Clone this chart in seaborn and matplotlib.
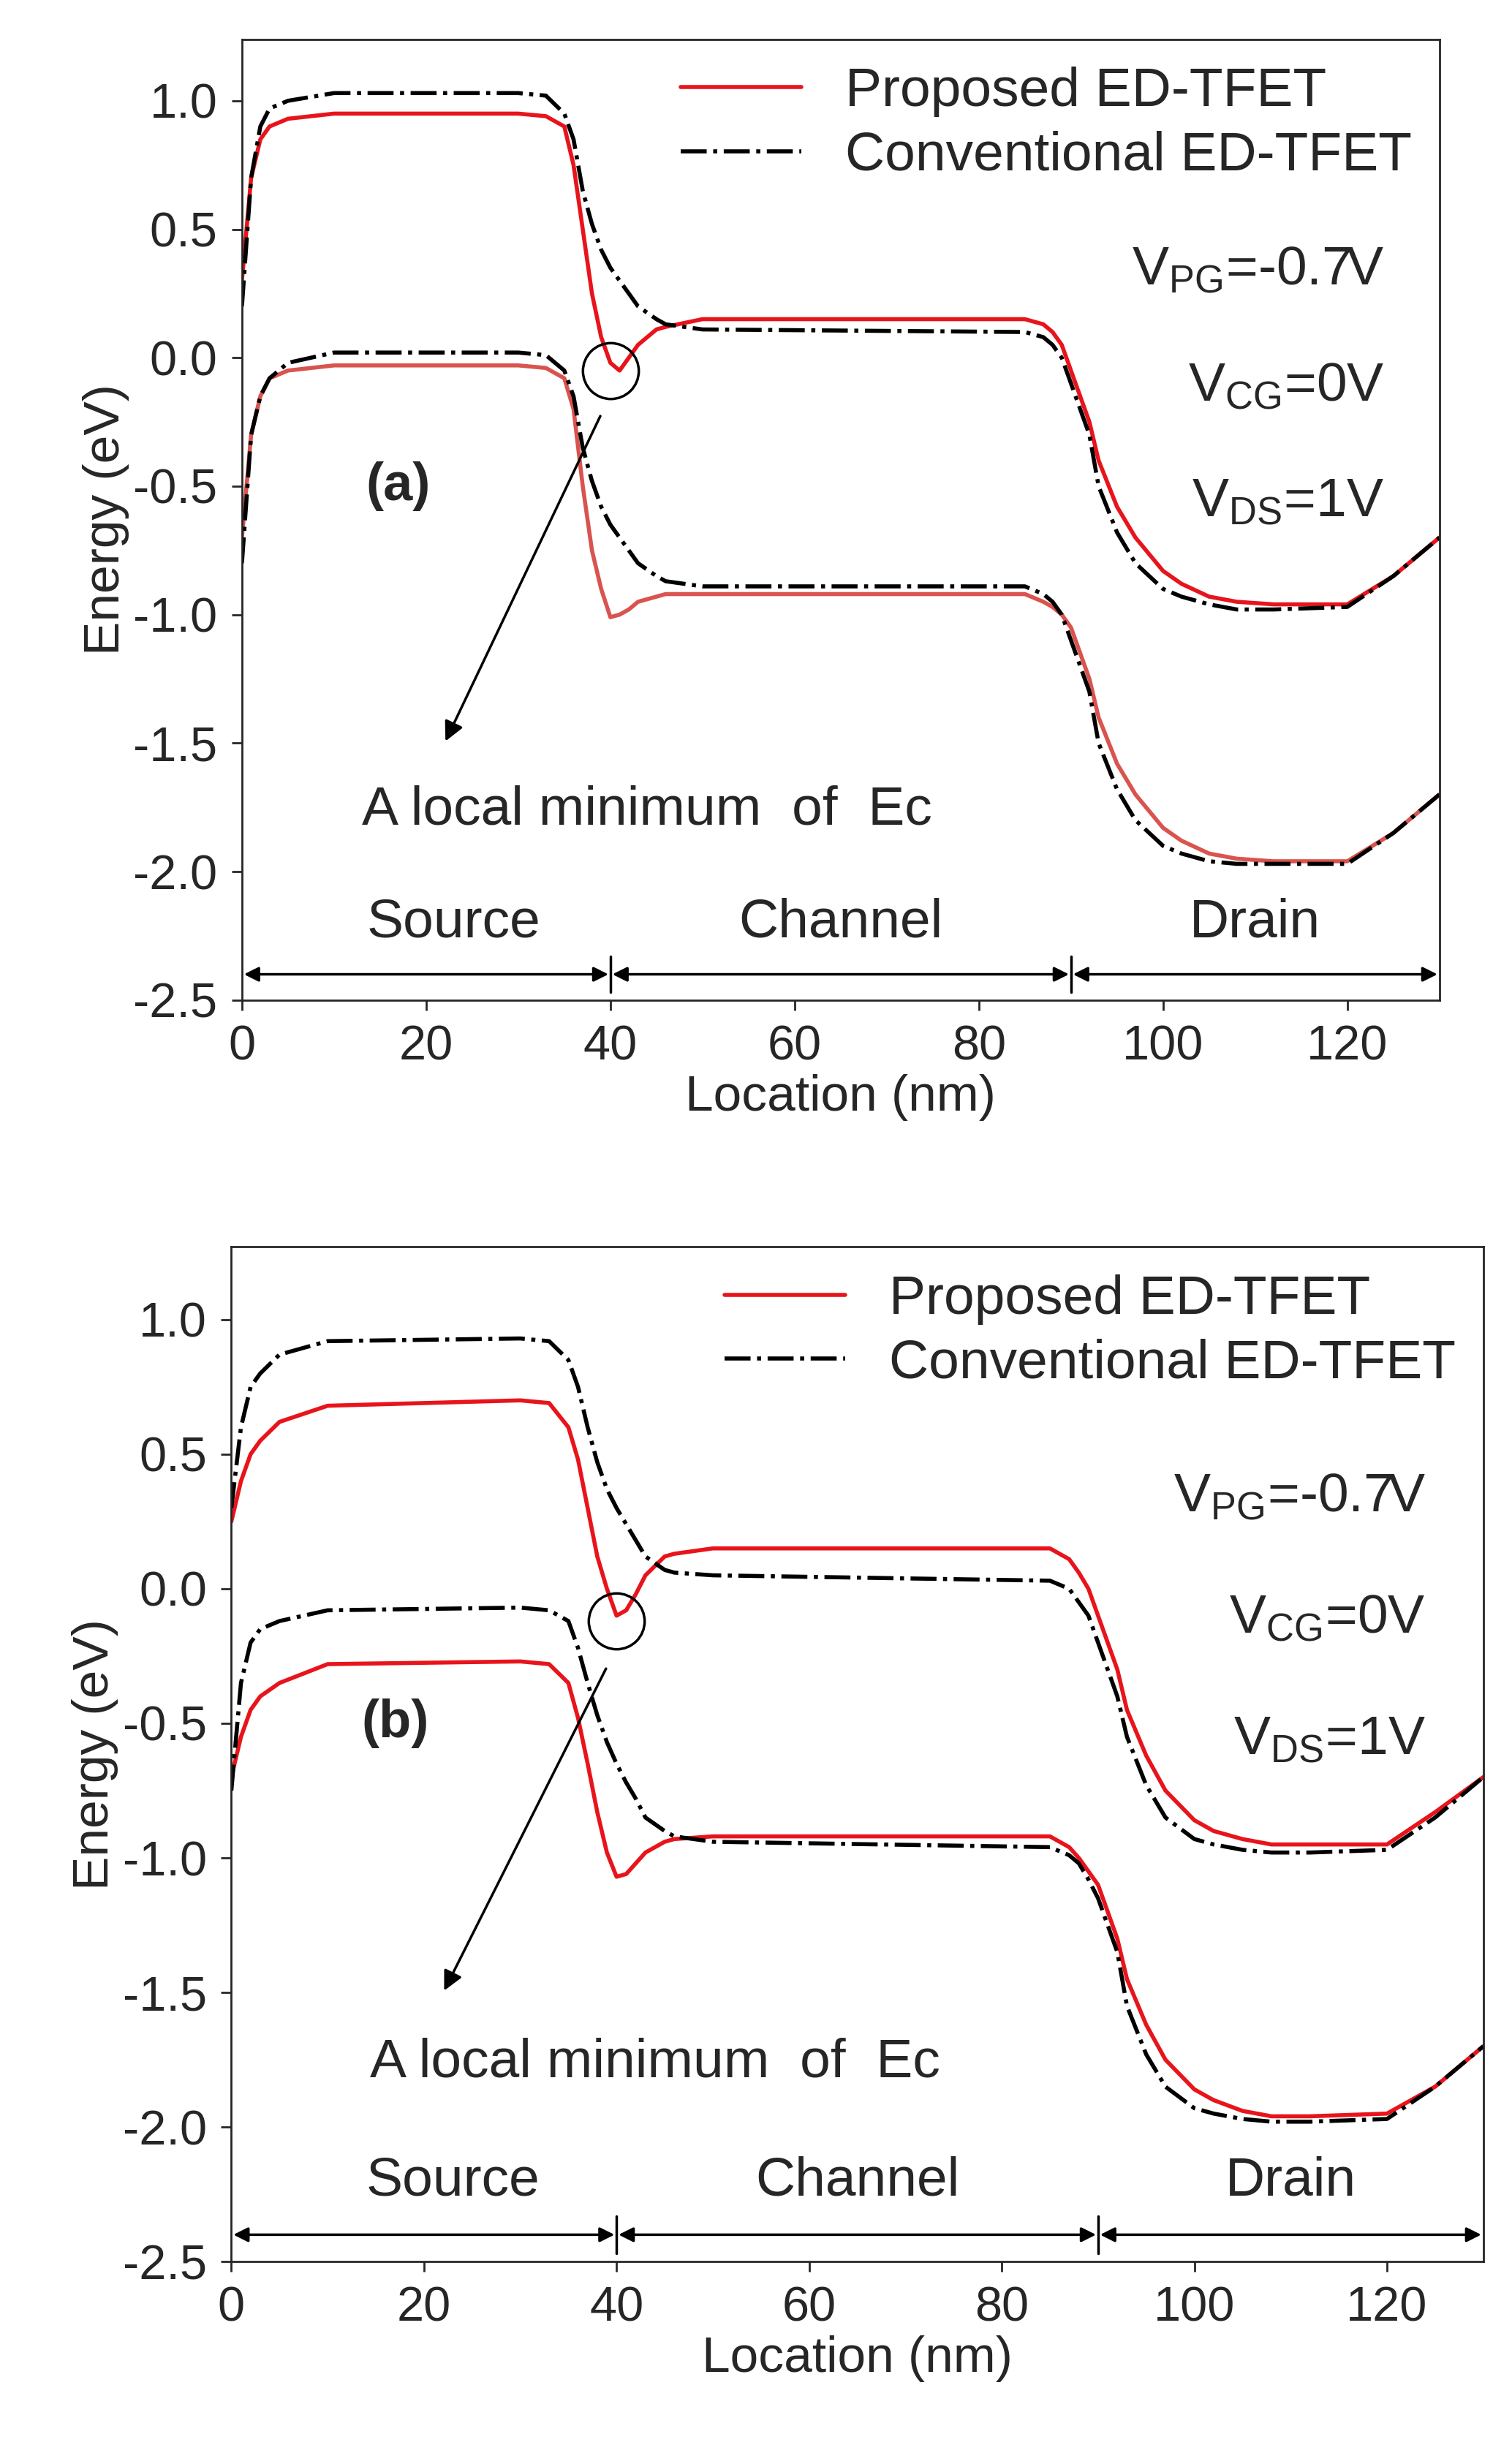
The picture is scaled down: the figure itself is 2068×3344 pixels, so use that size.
import numpy as np
import matplotlib.pyplot as plt
import seaborn as sns
import pandas as pd

sns.set_style("ticks")
plt.rcParams["font.family"] = "Liberation Sans"
plt.rcParams["mathtext.default"] = "regular"

# band edges (x in nm, energy in eV)
x_pts = [0, 1, 2, 3, 5, 10, 30, 33, 35, 36, 37, 38, 39, 40, 41, 42, 43, 45, 46, 50,
         85, 87, 88, 89, 90, 92, 93, 95, 97, 100, 102, 105, 108, 112, 120, 125, 130]

a_ec_prop = [0.3, 0.7, 0.85, 0.9, 0.93, 0.95, 0.95, 0.94, 0.9, 0.75, 0.5, 0.25, 0.08, -0.02, -0.05,
             0.0, 0.05, 0.11, 0.12, 0.15, 0.15, 0.13, 0.1, 0.05, -0.05, -0.25, -0.4, -0.58, -0.7,
             -0.83, -0.88, -0.93, -0.95, -0.96, -0.96, -0.85, -0.7]
a_ec_conv = [0.2, 0.7, 0.9, 0.97, 1.0, 1.03, 1.03, 1.02, 0.95, 0.85, 0.65, 0.52, 0.42, 0.35, 0.3,
             0.25, 0.2, 0.15, 0.13, 0.11, 0.1, 0.08, 0.05, 0.0, -0.1, -0.3, -0.5, -0.68, -0.8,
             -0.9, -0.93, -0.96, -0.98, -0.98, -0.97, -0.85, -0.7]
a_ev_prop = [-0.7, -0.3, -0.15, -0.08, -0.05, -0.03, -0.03, -0.04, -0.08, -0.2, -0.5, -0.75, -0.9,
             -1.01, -1.0, -0.98, -0.95, -0.93, -0.92, -0.92, -0.92, -0.95, -0.97, -1.0, -1.05,
             -1.25, -1.4, -1.58, -1.7, -1.83, -1.88, -1.93, -1.95, -1.96, -1.96, -1.85, -1.7]
a_ev_conv = [-0.8, -0.3, -0.15, -0.08, -0.02, 0.02, 0.02, 0.01, -0.05, -0.15, -0.35, -0.48, -0.58,
             -0.65, -0.7, -0.75, -0.8, -0.85, -0.87, -0.89, -0.89, -0.92, -0.95, -1.0, -1.1,
             -1.3, -1.5, -1.68, -1.8, -1.9, -1.93, -1.96, -1.97, -1.97, -1.97, -1.85, -1.7]

b_ec_prop = [0.25, 0.4, 0.5, 0.55, 0.62, 0.68, 0.7, 0.69, 0.6, 0.48, 0.3, 0.12, 0.0, -0.1, -0.08,
             -0.02, 0.05, 0.12, 0.13, 0.15, 0.15, 0.11, 0.06, 0.0, -0.1, -0.3, -0.45, -0.62, -0.75,
             -0.86, -0.9, -0.93, -0.95, -0.95, -0.95, -0.83, -0.7]
b_ec_conv = [0.3, 0.6, 0.75, 0.8, 0.87, 0.92, 0.93, 0.92, 0.85, 0.75, 0.6, 0.47, 0.37, 0.3, 0.24,
             0.18, 0.12, 0.07, 0.06, 0.05, 0.03, 0.0, -0.05, -0.1, -0.2, -0.4, -0.55, -0.73, -0.85,
             -0.93, -0.95, -0.97, -0.98, -0.98, -0.97, -0.85, -0.7]
b_ev_prop = [-0.7, -0.55, -0.45, -0.4, -0.35, -0.28, -0.27, -0.28, -0.35, -0.48, -0.65, -0.83, -0.98,
             -1.07, -1.06, -1.02, -0.98, -0.94, -0.93, -0.92, -0.92, -0.96, -1.0, -1.05, -1.1,
             -1.3, -1.45, -1.62, -1.75, -1.86, -1.9, -1.94, -1.96, -1.96, -1.95, -1.85, -1.7]
b_ev_conv = [-0.75, -0.35, -0.2, -0.15, -0.12, -0.08, -0.07, -0.08, -0.12, -0.22, -0.35, -0.47, -0.57,
             -0.65, -0.72, -0.78, -0.85, -0.9, -0.92, -0.94, -0.96, -0.99, -1.02, -1.08, -1.15,
             -1.35, -1.55, -1.73, -1.85, -1.93, -1.95, -1.97, -1.98, -1.98, -1.97, -1.85, -1.7]

regions = ["Source", "Channel", "Drain"]
region_bounds = [0, 40, 90, 130]
region_label_x = [23, 65, 110]
volt_labels = ["V$_{PG}$=-0.7V", "V$_{CG}$=0V", "V$_{DS}$=1V"]
xticks = [0, 20, 40, 60, 80, 100, 120]
yticks = [1.0, 0.5, 0.0, -0.5, -1.0, -1.5, -2.0, -2.5]

fig = plt.figure(figsize=(20.68, 33.44), dpi=100)
ax_a = fig.add_axes([0.160, 0.591, 0.792, 0.393])
ax_b = fig.add_axes([0.153, 0.075, 0.828, 0.415])

panels = [
    (ax_a, "(a)", a_ec_prop, a_ec_conv, a_ev_prop, a_ev_conv, 1.24, -0.05),
    (ax_b, "(b)", b_ec_prop, b_ec_conv, b_ev_prop, b_ev_conv, 1.27, -0.12),
]

fs = 48
for ax, tag, ec_p, ec_c, ev_p, ev_c, ytop, cmin in panels:
    sns.lineplot(x=x_pts, y=ec_p, ax=ax, color="#e8141b", lw=4, label="Proposed ED-TFET")
    sns.lineplot(x=x_pts, y=ec_c, ax=ax, color="black", lw=4, ls="-.", label="Conventional ED-TFET")
    sns.lineplot(x=x_pts, y=ev_p, ax=ax, color="#e8141b" if tag == "(b)" else "#d9534f", lw=4)
    sns.lineplot(x=x_pts, y=ev_c, ax=ax, color="black", lw=4, ls="-.")
    ax.set_xlim(0, 130)
    ax.set_ylim(-2.5, ytop)
    ax.set_xticks(xticks)
    ax.set_yticks(yticks)
    ax.set_yticklabels([f"{v:.1f}" for v in yticks])
    ax.tick_params(labelsize=fs, direction="out", length=10, width=2, pad=14)
    for s in ax.spines.values():
        s.set_linewidth(2)
    ax.set_xlabel("Location (nm)", fontsize=fs + 2, labelpad=4)
    ax.set_ylabel("Energy (eV)", fontsize=fs + 2)
    ax.legend(loc="upper right", fontsize=fs + 6, frameon=False, handlelength=2.2,
              borderaxespad=0.1, labelspacing=0.25)
    for i, t in enumerate(volt_labels):
        ax.text(124, 0.34 - i * 0.45, t, fontsize=fs + 6, ha="right", va="center")
    ax.text(17, -0.5, tag, fontsize=fs + 4, fontweight="bold", ha="center", va="center")
    # local minimum marker
    ax.plot([40], [cmin], marker="o", ms=55, mfc="none", mec="black", mew=2.5)
    ax.annotate("", xy=(22, -1.5), xytext=(39, cmin - 0.17),
                arrowprops=dict(arrowstyle="-|>", color="black", lw=2.5, mutation_scale=40))
    ax.text(44, -1.76, "A local minimum  of  Ec", fontsize=fs + 6, ha="center", va="center")
    # region arrows
    for lo, hi in zip(region_bounds[:-1], region_bounds[1:]):
        ax.annotate("", xy=(lo, -2.4), xytext=(hi, -2.4),
                    arrowprops=dict(arrowstyle="<|-|>", color="black", lw=2.5, mutation_scale=30))
    for b in region_bounds[1:-1]:
        ax.plot([b, b], [-2.47, -2.33], color="black", lw=2.5)
    for name, xl in zip(regions, region_label_x):
        ax.text(xl, -2.2, name, fontsize=fs + 6, ha="center", va="center")

fig.savefig("out.png", dpi=100)
